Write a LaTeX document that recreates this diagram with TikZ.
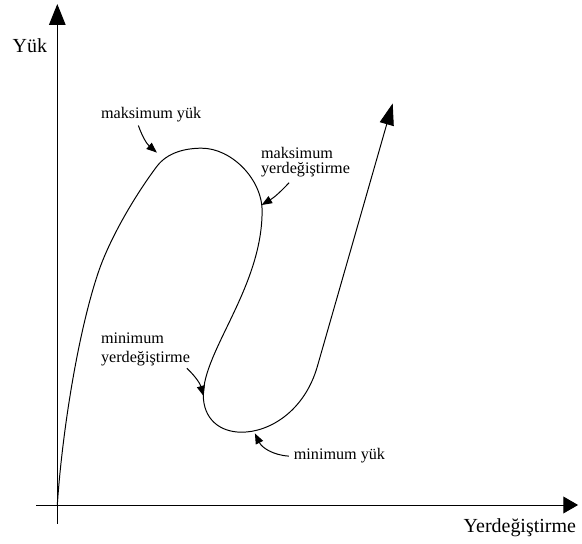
\documentclass[tikz,border=0pt]{standalone}
\usepackage{fontspec}
\setmainfont{Liberation Serif}
\usepackage{tikz}
\usetikzlibrary{arrows.meta}

\begin{document}
\begin{tikzpicture}[
        lbl/.style={inner sep=0.5pt, font=\fontsize{11.5}{11.9}\selectfont},
        axislbl/.style={inner sep=0.5pt, font=\fontsize{14.2}{17}\selectfont},
        note/.style={line width=0.7pt, -{Triangle[length=2.6mm,width=2mm]}}
    ]
        \useasboundingbox (-1.4325,-0.975) rectangle (13.1175,12.625);

        % Axes
        \draw[line width=0.7pt, -{Triangle[length=3.7mm,width=4.2mm]}] (-0.53,0) -- (13.02,0);
        \draw[line width=0.7pt, -{Triangle[length=5.2mm,width=4.1mm]}] (0,-0.475) -- (0,12.525);
        \node[axislbl, anchor=base east] (lbldisp) at (12.99,-0.70) {Yerdeğiştirme};
        \node[axislbl, anchor=base east] (lblload) at (-0.23,11.3) {Yük};

        % Load-displacement curve
        \draw[line width=0.7pt, -{Triangle[length=5.4mm,width=3.6mm]}]
            (0,0) .. controls (0.12,1.8) and (0.515,4.315) .. (1.03,5.83)
            .. controls (1.32,6.68) and (1.945,7.74) .. (2.485,8.46)
            .. controls (2.755,8.82) and (3.21,8.92) .. (3.61,8.92)
            .. controls (4.35,8.92) and (5.12,8.15) .. (5.12,7.35)
            .. controls (5.12,5.45) and (3.65,3.85) .. (3.65,2.75)
            .. controls (3.65,2.15) and (4.06,1.82) .. (4.61,1.82)
            .. controls (5.31,1.82) and (6.18,2.35) .. (6.50,3.46)
            -- (8.385,10.04);

        % Points on the curve
        \coordinate (pmaxload) at (2.49,8.81);
        \coordinate (pmaxdisp) at (5.11,7.50);
        \coordinate (pmindisp) at (3.66,2.72);
        \coordinate (pminload) at (4.94,1.79);

        % Labels
        \node[lbl, anchor=base west] (lblmaxload) at (1.07,9.65) {maksimum yük};
        \node[lbl, anchor=base west, align=left] (lblmaxdisp) at (5.07,8.29) {maksimum\\[-1.6pt]yerdeğiştirme};
        \node[lbl, anchor=base west, align=left] (lblmindisp) at (1.07,3.56) {minimum\\[1.9pt]yerdeğiştirme};
        \node[lbl, anchor=base west] (lblminload) at (5.89,1.125) {minimum yük};

        \draw[note] ([xshift=-0.32cm,yshift=-0.05cm]lblmaxload.south) to[bend right=15] (pmaxload);
        \draw[note] ([xshift=-0.41cm,yshift=-0.12cm]lblmaxdisp.south) to[bend left=8] (pmaxdisp);
        \draw[note] ([xshift=-0.1cm,yshift=-0.03cm]lblmindisp.south east) to[bend left=15] (pmindisp);
        \draw[note] ([xshift=-0.1cm]lblminload.west) to[bend left=30] (pminload);
    \end{tikzpicture}
\end{document}
